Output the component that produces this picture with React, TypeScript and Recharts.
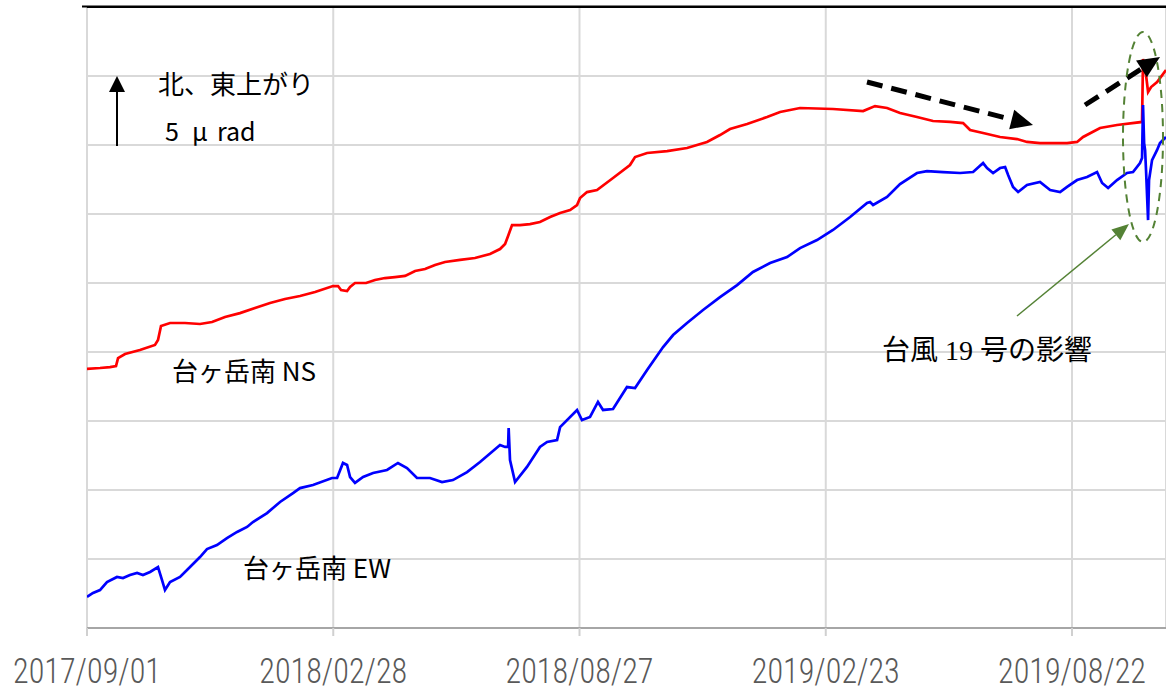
import { LineChart, Line, XAxis, YAxis, CartesianGrid, ReferenceLine } from 'recharts'

// days since 2017/09/01, tilt in μrad
const tickDays = [0, 180, 360, 540, 720]
const tickLabels = ['2017/09/01', '2018/02/28', '2018/08/27', '2019/02/23', '2019/08/22']
const yTicks = [0, 5, 10, 15, 20, 25, 30, 35, 40, 45]

const nsSeries: [number, number][] = [
  [0, 18.77], [9.5, 18.84], [16.8, 18.91], [21.2, 18.98], [22.7, 19.56], [27.8, 19.85], [38.7, 20.14],
  [49.7, 20.51], [51.9, 20.87], [54.1, 21.88], [60.7, 22.1], [71.6, 22.1], [82.6, 22.03], [91.4, 22.17],
  [100.9, 22.54], [111.8, 22.82], [122.8, 23.19], [133.8, 23.55], [144.7, 23.84], [155.7, 24.06],
  [166.7, 24.35], [179.8, 24.78], [183.5, 24.78], [185.7, 24.49], [190.1, 24.42], [192.3, 24.71],
  [195.9, 25.0], [204, 25.0], [210.5, 25.22], [217.8, 25.36], [225.1, 25.43], [232.5, 25.51],
  [239.8, 25.87], [247.1, 26.01], [254.4, 26.3], [261.7, 26.52], [272.7, 26.67], [283.6, 26.81],
  [294.6, 27.1], [301.9, 27.46], [305.6, 27.82], [307.8, 28.4], [310.7, 29.2], [316.5, 29.2],
  [323.8, 29.27], [331.1, 29.42], [338.5, 29.78], [345.8, 30.07], [353.1, 30.29], [358.2, 30.65],
  [360.4, 31.16], [365.5, 31.59], [372.8, 31.74], [384.5, 32.61], [396.9, 33.55], [400.6, 34.13],
  [409.4, 34.42], [424, 34.56], [438.6, 34.78], [453.2, 35.22], [462.7, 35.72], [470, 36.16],
  [482.5, 36.52], [497.1, 37.03], [506.6, 37.39], [521.2, 37.68], [545.3, 37.61], [567.3, 37.46],
  [576, 37.82], [584.8, 37.68], [594.3, 37.32], [606.7, 37.03], [618.4, 36.74], [630.9, 36.67],
  [640.4, 36.59], [645.5, 36.09], [655, 35.87], [667.4, 35.58], [679.8, 35.43], [687.1, 35.22],
  [696.6, 35.14], [716.4, 35.14], [723.7, 35.22], [728.1, 35.58], [740.5, 36.23], [752.9, 36.45],
  [771.2, 36.67], [771.9, 41.23], [774.1, 40.07], [775.6, 38.84], [777.8, 39.2], [782.2, 39.56],
  [788.7, 40.43],
]

const ewSeries: [number, number][] = [
  [0, 2.25], [4.4, 2.54], [9.5, 2.75], [14.6, 3.33], [21.9, 3.7], [26.3, 3.62], [31.4, 3.84],
  [36.6, 3.99], [40.9, 3.84], [46.1, 4.06], [51.9, 4.42], [54.8, 3.48], [57, 2.75], [60.7, 3.33],
  [68, 3.7], [75.3, 4.42], [82.6, 5.14], [87.7, 5.72], [95, 6.01], [102.3, 6.52], [109.7, 6.96],
  [117, 7.32], [121.3, 7.68], [131.6, 8.33], [141.1, 9.13], [150.6, 9.78], [155.7, 10.14],
  [165.2, 10.36], [179.1, 10.87], [182.8, 10.87], [187.1, 11.96], [190.1, 11.81], [192.3, 10.94],
  [195.9, 10.51], [201.8, 10.94], [209.1, 11.23], [219.3, 11.45], [227.3, 11.96], [233.9, 11.59],
  [241.2, 10.87], [250.7, 10.87], [259.5, 10.58], [267.5, 10.72], [277.8, 11.3], [287.3, 12.03],
  [301.9, 13.26], [305.6, 13.12], [307.8, 13.12], [308.2, 14.49], [309.2, 12.17], [312.9, 10.58],
  [321.6, 11.67], [331.1, 13.12], [336.3, 13.48], [343.6, 13.62], [345.8, 14.56], [358.2, 15.8],
  [361.8, 15.07], [367.7, 15.29], [373.5, 16.38], [377.2, 15.8], [384.5, 15.87], [394.7, 17.46],
  [400.6, 17.39], [409.4, 18.69], [421.1, 20.36], [428.4, 21.23], [438.6, 22.1], [450.3, 23.04],
  [462.7, 23.98], [475.2, 24.85], [486.8, 25.8], [499.3, 26.45], [511.7, 26.88], [521.2, 27.53],
  [533.6, 28.11], [545.3, 28.84], [557.8, 29.78], [570.2, 30.8], [572.4, 30.87], [574.6, 30.65],
  [584.8, 31.23], [594.3, 32.17], [606.7, 32.97], [614, 33.11], [625.7, 33.04], [638.2, 32.97],
  [647.7, 33.04], [655, 33.69], [657.9, 33.33], [662.3, 32.97], [667.4, 33.33], [671.1, 33.4],
  [673.3, 32.82], [676.9, 31.96], [680.6, 31.59], [687.1, 32.1], [696.6, 32.32], [704, 31.74],
  [711.3, 31.59], [716.4, 31.96], [723.7, 32.46], [731, 32.68], [738.3, 33.04], [742, 32.25],
  [746.4, 31.88], [752.9, 32.46], [760.2, 32.97], [764.6, 33.04], [769.7, 33.69], [771.2, 34.06],
  [771.9, 37.9], [772.7, 35.14], [773.4, 34.64], [774.1, 33.19], [775.6, 29.56], [776.3, 32.46],
  [778.5, 33.91], [782.2, 34.64], [784.3, 35.14], [788.7, 35.58],
]

const nsData = nsSeries.map(([d, v]) => ({ d, v }))
const ewData = ewSeries.map(([d, v]) => ({ d, v }))

const JP = '"Noto Sans CJK JP", "Noto Sans", sans-serif'

function DateTick(props: any) {
  const { x, y, payload } = props
  const i = tickDays.indexOf(payload.value)
  return (
    <text x={x} y={y} dy={47} textAnchor="middle" fill="#595959" fontSize={35} fontWeight={300}
      textLength={148} lengthAdjust="spacingAndGlyphs"
      fontFamily='"Roboto Condensed", Roboto, sans-serif'>
      {tickLabels[i]}
    </text>
  )
}

// horizontal grid from the y ticks (plot area runs over the full 0..45 range)
function hGrid({ offset }: any) {
  return yTicks.map((t) => offset.top + offset.height * (1 - t / 45))
}

// arrowhead triangle pointing from (x1,y1) to tip (x2,y2)
function head(x1: number, y1: number, x2: number, y2: number, len: number, half: number) {
  const dx = x2 - x1, dy = y2 - y1
  const l = Math.hypot(dx, dy)
  const ux = dx / l, uy = dy / l
  const bx = x2 - ux * len, by = y2 - uy * len
  return {
    base: [bx, by],
    points: `${x2},${y2} ${bx - uy * half},${by + ux * half} ${bx + uy * half},${by - ux * half}`,
  }
}

function Arrow({ x1, y1, x2, y2, color, width, len, half, dash }: any) {
  const h = head(x1, y1, x2, y2, len, half)
  return (
    <g>
      <line x1={x1} y1={y1} x2={h.base[0]} y2={h.base[1]} stroke={color} strokeWidth={width} strokeDasharray={dash} />
      <polygon points={h.points} fill={color} />
    </g>
  )
}

export default function App() {
  return (
    <div style={{ position: 'absolute', left: 0, top: 0, width: 1166, height: 691, background: '#fff' }}>
      <LineChart width={1166} height={691} margin={{ top: 7, right: 0, bottom: 0, left: 87 }}>
        <CartesianGrid stroke="#d9d9d9" strokeWidth={2} horizontalCoordinatesGenerator={hGrid} />
        <XAxis
          type="number"
          dataKey="d"
          domain={[0, 788.7]}
          ticks={tickDays}
          allowDataOverflow
          height={63}
          tickSize={8}
          tickMargin={0}
          tickLine={{ stroke: '#d0d0d0', strokeWidth: 2 }}
          axisLine={{ stroke: '#a6a6a6', strokeWidth: 2 }}
          tick={<DateTick />}
        />
        <YAxis
          type="number"
          domain={[0, 45]}
          ticks={yTicks}
          width={0}
          tick={false}
          tickLine={false}
          axisLine={{ stroke: '#a6a6a6', strokeWidth: 2 }}
        />
        <ReferenceLine y={45} stroke="#000" strokeWidth={2} />
        <Line data={nsData} dataKey="v" stroke="#ff0000" strokeWidth={2.7} dot={false} isAnimationActive={false} />
        <Line data={ewData} dataKey="v" stroke="#0000ff" strokeWidth={2.7} dot={false} isAnimationActive={false} />
      </LineChart>

      <svg width={1166} height={691} style={{ position: 'absolute', left: 0, top: 0, pointerEvents: 'none' }}>
        <line x1={82} y1={6.5} x2={1166} y2={6.5} stroke="#000" strokeWidth={2} />
        <Arrow x1={117} y1={146} x2={117} y2={76} color="#000" width={2} len={16} half={8} />
        <text x={158} y={94} fontSize={26} fontFamily={JP} fill="#000">北、東上がり</text>
        <text y={141} fontSize={25} fontFamily={JP} fill="#000">
          <tspan x={165}>5</tspan>
          <tspan x={192}>μ</tspan>
          <tspan x={217}>rad</tspan>
        </text>
        <text x={172} y={381} fontSize={26} fontFamily={JP} fill="#000">台ヶ岳南 NS</text>
        <text x={243} y={578} fontSize={26} fontFamily={JP} fill="#000">台ヶ岳南 EW</text>
        <text x={882} y={360} fontSize={28} fontFamily={'"Liberation Serif", ' + JP} fill="#000">台風 19 号の影響</text>

        <Arrow x1={867} y1={82} x2={1033} y2={125} color="#000" width={5} len={22} half={10} dash="16 9" />
        <Arrow x1={1085} y1={105} x2={1160} y2={57} color="#000" width={5} len={22} half={10} dash="16 9" />

        <ellipse cx={1143} cy={137} rx={20} ry={105} fill="none" stroke="#548235" strokeWidth={2} strokeDasharray="8 6" />
        <Arrow x1={1017} y1={316} x2={1129} y2={224} color="#548235" width={1.5} len={17} half={7} />
      </svg>
    </div>
  )
}
